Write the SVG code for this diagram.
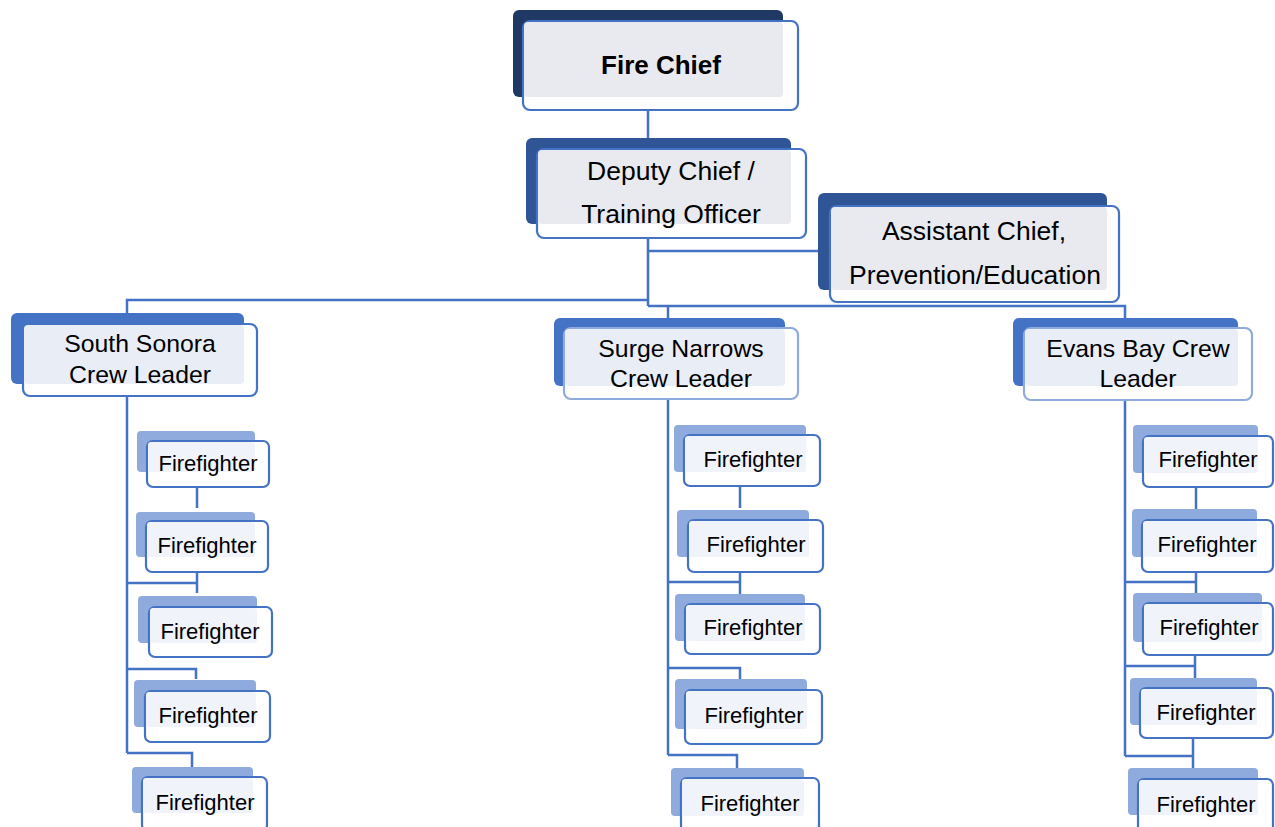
<svg xmlns="http://www.w3.org/2000/svg" width="1275" height="827" viewBox="0 0 1275 827">
<style>
.t{font-family:"Liberation Sans",Arial,sans-serif;fill:#000;text-anchor:middle}
.front{fill:#fff;stroke:#4472c4;stroke-width:2.2}
.frontL{fill:#fff;stroke:#8faadc;stroke-width:2.2}
.ov1{fill:#e8eaf0}
.ov2{fill:#e9edf6}
.ov3{fill:#f0f3fa}
.b0{fill:#203864}
.b1{fill:#2f5597}
.b2{fill:#4472c4}
.b3{fill:#8faadc}
.c{stroke:#4472c4;stroke-width:2.5;fill:none}
.ff{font-size:22px}
.top{font-size:26.5px}
.lead{font-size:24.8px}
</style>
<rect width="1275" height="827" fill="#fff"/>
<g id="connectors">
<path class="c" d="M648 110V148"/>
<path class="c" d="M648 238V306M648 251H830M648 300H127V316M648 306H1125V320M668 306V328"/>
<path class="c" d="M127 396V753M197 487V508M197 572V593M127 583H197M127 669H196V679M127 753H192V767"/>
<path class="c" d="M668 399V755M740 486V508M740 572V594M668 582H740M668 668H740V679M668 755H737V768"/>
<path class="c" d="M1125 400V756M1196 487V509M1196 572V593M1125 582H1196M1195 655V678M1125 666H1195M1193 738V768M1125 756H1193"/>
</g>
<g id="fire-chief">
<rect class="b0" x="513" y="10" width="270" height="87" rx="6"/>
<rect class="front" x="523" y="21" width="275" height="89" rx="7"/>
<rect class="ov1" x="524" y="22" width="259" height="75" rx="4"/>
<text class="t" x="661" y="74" font-size="26" font-weight="bold">Fire Chief</text>
</g>
<g id="deputy-chief">
<rect class="b1" x="526" y="138" width="265" height="86" rx="6"/>
<rect class="front" x="537" y="149" width="269" height="89" rx="7"/>
<rect class="ov1" x="538" y="150" width="253" height="74" rx="4"/>
<text class="t top" x="671" y="180">Deputy Chief /</text>
<text class="t top" x="671" y="223">Training Officer</text>
</g>
<g id="assistant-chief">
<rect class="b1" x="818" y="193" width="289" height="97" rx="6"/>
<rect class="front" x="830" y="206" width="289" height="96" rx="7"/>
<rect class="ov1" x="831" y="207" width="276" height="83" rx="4"/>
<text class="t top" x="974" y="240">Assistant Chief,</text>
<text class="t top" x="975" y="284">Prevention/Education</text>
</g>
<g id="south-sonora">
<rect class="b2" x="11" y="313" width="233" height="71" rx="6"/>
<rect class="front" x="23" y="324" width="234" height="72" rx="7"/>
<rect class="ov2" x="24" y="325" width="220" height="59" rx="4"/>
<text class="t lead" x="140" y="352">South Sonora</text>
<text class="t lead" x="140" y="383">Crew Leader</text>
</g>
<g id="surge-narrows">
<rect class="b2" x="554" y="318" width="231" height="68" rx="6"/>
<rect class="frontL" x="564" y="328" width="234" height="71" rx="7"/>
<rect class="ov2" x="565" y="329" width="220" height="57" rx="4"/>
<text class="t lead" x="681" y="357">Surge Narrows</text>
<text class="t lead" x="681" y="387">Crew Leader</text>
</g>
<g id="evans-bay">
<rect class="b2" x="1013" y="318" width="225" height="68" rx="6"/>
<rect class="frontL" x="1024" y="328" width="228" height="72" rx="7"/>
<rect class="ov2" x="1025" y="329" width="213" height="57" rx="4"/>
<text class="t lead" x="1138" y="357">Evans Bay Crew</text>
<text class="t lead" x="1138" y="387">Leader</text>
</g>
<g id="ss-ff1"><rect class="b3" x="137" y="431" width="118" height="41" rx="4"/><rect class="front" x="147" y="441" width="122" height="46" rx="6"/><rect class="ov3" x="148" y="442" width="107" height="30" rx="3"/><text class="t ff" x="208" y="471">Firefighter</text></g>
<g id="ss-ff2"><rect class="b3" x="136" y="512" width="119" height="45" rx="4"/><rect class="front" x="146" y="521" width="122" height="51" rx="6"/><rect class="ov3" x="147" y="522" width="108" height="35" rx="3"/><text class="t ff" x="207" y="553">Firefighter</text></g>
<g id="ss-ff3"><rect class="b3" x="138" y="596" width="119" height="47" rx="4"/><rect class="front" x="149" y="607" width="123" height="50" rx="6"/><rect class="ov3" x="150" y="608" width="107" height="35" rx="3"/><text class="t ff" x="210" y="639">Firefighter</text></g>
<g id="ss-ff4"><rect class="b3" x="134" y="680" width="122" height="47" rx="4"/><rect class="front" x="145" y="691" width="125" height="51" rx="6"/><rect class="ov3" x="146" y="692" width="110" height="35" rx="3"/><text class="t ff" x="208" y="723">Firefighter</text></g>
<g id="ss-ff5"><rect class="b3" x="132" y="767" width="121" height="46" rx="4"/><rect class="front" x="142" y="777" width="125" height="54" rx="6"/><rect class="ov3" x="143" y="778" width="110" height="35" rx="3"/><text class="t ff" x="205" y="810">Firefighter</text></g>
<g id="sn-ff1"><rect class="b3" x="674" y="425" width="132" height="47" rx="4"/><rect class="front" x="684" y="435" width="136" height="51" rx="6"/><rect class="ov3" x="685" y="436" width="121" height="36" rx="3"/><text class="t ff" x="753" y="467">Firefighter</text></g>
<g id="sn-ff2"><rect class="b3" x="677" y="510" width="132" height="47" rx="4"/><rect class="front" x="688" y="520" width="135" height="52" rx="6"/><rect class="ov3" x="689" y="521" width="120" height="36" rx="3"/><text class="t ff" x="756" y="552">Firefighter</text></g>
<g id="sn-ff3"><rect class="b3" x="675" y="594" width="130" height="47" rx="4"/><rect class="front" x="685" y="604" width="135" height="50" rx="6"/><rect class="ov3" x="686" y="605" width="119" height="36" rx="3"/><text class="t ff" x="753" y="635">Firefighter</text></g>
<g id="sn-ff4"><rect class="b3" x="675" y="679" width="132" height="50" rx="4"/><rect class="front" x="685" y="690" width="137" height="54" rx="6"/><rect class="ov3" x="686" y="691" width="121" height="38" rx="3"/><text class="t ff" x="754" y="723">Firefighter</text></g>
<g id="sn-ff5"><rect class="b3" x="671" y="768" width="133" height="48" rx="4"/><rect class="front" x="681" y="778" width="138" height="54" rx="6"/><rect class="ov3" x="682" y="779" width="122" height="37" rx="3"/><text class="t ff" x="750" y="811">Firefighter</text></g>
<g id="eb-ff1"><rect class="b3" x="1133" y="425" width="125" height="48" rx="4"/><rect class="front" x="1143" y="436" width="130" height="51" rx="6"/><rect class="ov3" x="1144" y="437" width="114" height="36" rx="3"/><text class="t ff" x="1208" y="467">Firefighter</text></g>
<g id="eb-ff2"><rect class="b3" x="1132" y="509" width="125" height="48" rx="4"/><rect class="front" x="1142" y="520" width="131" height="52" rx="6"/><rect class="ov3" x="1143" y="521" width="114" height="36" rx="3"/><text class="t ff" x="1207" y="552">Firefighter</text></g>
<g id="eb-ff3"><rect class="b3" x="1133" y="593" width="129" height="49" rx="4"/><rect class="front" x="1143" y="603" width="130" height="52" rx="6"/><rect class="ov3" x="1144" y="604" width="118" height="38" rx="3"/><text class="t ff" x="1209" y="635">Firefighter</text></g>
<g id="eb-ff4"><rect class="b3" x="1130" y="678" width="127" height="47" rx="4"/><rect class="front" x="1140" y="688" width="133" height="50" rx="6"/><rect class="ov3" x="1141" y="689" width="116" height="36" rx="3"/><text class="t ff" x="1206" y="720">Firefighter</text></g>
<g id="eb-ff5"><rect class="b3" x="1128" y="768" width="130" height="47" rx="4"/><rect class="front" x="1138" y="779" width="135" height="54" rx="6"/><rect class="ov3" x="1139" y="780" width="119" height="35" rx="3"/><text class="t ff" x="1206" y="812">Firefighter</text></g>
</svg>
